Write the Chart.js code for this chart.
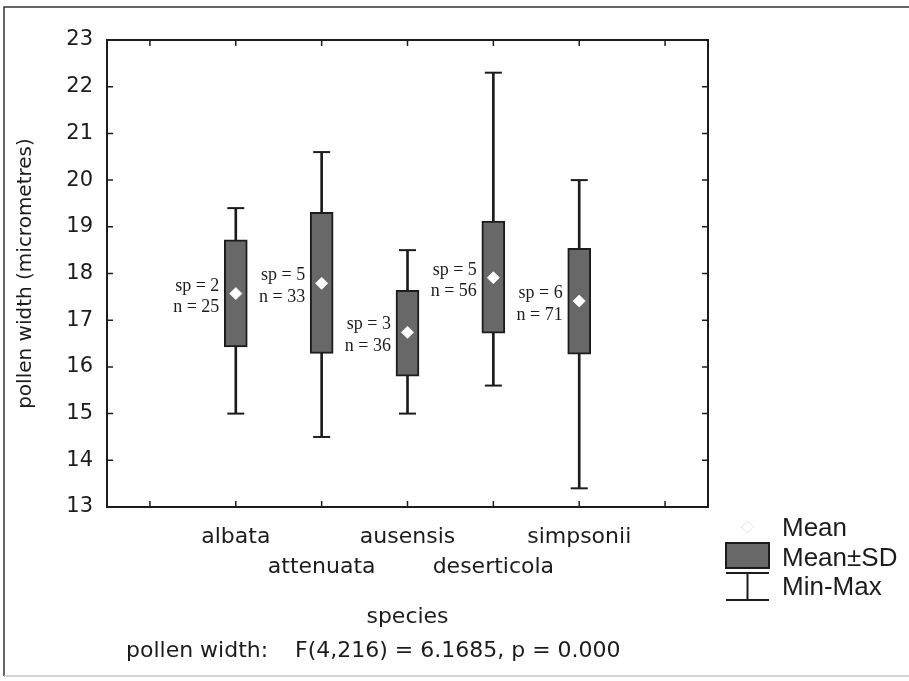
<!DOCTYPE html>
<html>
<head>
<meta charset="utf-8">
<script src="https://cdn.jsdelivr.net/npm/chart.js@4/dist/chart.umd.min.js"></script>
<style>
  html, body { margin: 0; padding: 0; background: #fff; }
  #wrap { width: 909px; height: 681px; }
</style>
</head>
<body>
<div id="wrap"><canvas id="chart" width="909" height="681"></canvas></div>
<script>
const species = ['albata', 'attenuata', 'ausensis', 'deserticola', 'simpsonii'];
const means = [17.57, 17.79, 16.74, 17.91, 17.41];
const sdLow = [16.43, 16.29, 15.80, 16.72, 16.27];
const sdHigh = [18.72, 19.31, 17.64, 19.12, 18.54];
const minVals = [15.0, 14.5, 15.0, 15.6, 13.4];
const maxVals = [19.4, 20.6, 18.5, 22.3, 20.0];
const spCounts = [2, 5, 3, 5, 6];
const nCounts = [25, 33, 36, 56, 71];
const yTicks = [13, 14, 15, 16, 17, 18, 19, 20, 21, 22, 23];

const boxFill = '#686868';
const ink = '#1c1c1c';
const sans = 'DejaVu Sans';

// species sit on positions 2..6 of a 0.5..7.5 axis, like the original
const xOf = i => i + 2;

const boxes = species.map((s, i) => ({ x: xOf(i), y: [sdLow[i], sdHigh[i]] }));
const whiskers = species.map((s, i) => ({ x: xOf(i), y: [minVals[i], maxVals[i]] }));
const caps = [];
species.forEach((s, i) => {
  caps.push({ x: xOf(i), y: maxVals[i] });
  caps.push({ x: xOf(i), y: minVals[i] });
});
const meanPts = species.map((s, i) => ({ x: xOf(i), y: means[i] }));

const extras = {
  id: 'extras',
  afterDatasetsDraw(chart) {
    const { ctx, chartArea: a, scales: { x, y } } = chart;
    ctx.save();

    // plot frame + inward ticks
    ctx.strokeStyle = ink;
    ctx.lineWidth = 2;
    ctx.strokeRect(a.left, a.top, a.right - a.left, a.bottom - a.top);
    ctx.lineWidth = 1.5;
    ctx.beginPath();
    for (let v = 1; v <= 7; v++) {
      const px = x.getPixelForValue(v);
      ctx.moveTo(px, a.bottom); ctx.lineTo(px, a.bottom - 6);
      ctx.moveTo(px, a.top); ctx.lineTo(px, a.top + 6);
    }
    yTicks.slice(1, -1).forEach(v => {
      const py = y.getPixelForValue(v);
      ctx.moveTo(a.left, py); ctx.lineTo(a.left + 6, py);
      ctx.moveTo(a.right, py); ctx.lineTo(a.right - 6, py);
    });
    ctx.stroke();

    // outer page frame
    ctx.strokeStyle = '#333';
    ctx.lineWidth = 1.5;
    ctx.beginPath();
    ctx.moveTo(909, 7); ctx.lineTo(4, 7); ctx.lineTo(4, 676);
    ctx.stroke();
    ctx.strokeStyle = '#c8c8c8';
    ctx.beginPath();
    ctx.moveTo(4, 676); ctx.lineTo(909, 676);
    ctx.stroke();

    // sp / n notes left of each box
    ctx.fillStyle = ink;
    ctx.font = '18px "Liberation Serif"';
    ctx.textAlign = 'right';
    ctx.textBaseline = 'alphabetic';
    species.forEach((s, i) => {
      const px = x.getPixelForValue(xOf(i)) - 16.5;
      const py = y.getPixelForValue(means[i]);
      ctx.fillText('sp = ' + spCounts[i], px, py - 3);
      ctx.fillText('n = ' + nCounts[i], px, py + 18.5);
    });

    // axis titles and test line
    ctx.font = '20px "' + sans + '"';
    ctx.textAlign = 'center';
    ctx.save();
    ctx.translate(31, (a.top + a.bottom) / 2);
    ctx.rotate(-Math.PI / 2);
    ctx.fillText('pollen width (micrometres)', 0, 0);
    ctx.restore();
    ctx.font = '22px "' + sans + '"';
    ctx.fillText('species', x.getPixelForValue(4), 623);
    ctx.textAlign = 'left';
    ctx.fillText('pollen width:', 126, 657);
    ctx.fillText('F(4,216) = 6.1685, p = 0.000', 295, 657);

    // legend
    const lx = 726, lw = 43;
    ctx.fillStyle = '#fff';
    ctx.strokeStyle = '#e2e2e2';
    ctx.lineWidth = 1;
    ctx.beginPath();
    ctx.moveTo(lx + lw / 2, 521); ctx.lineTo(lx + lw / 2 + 6, 527);
    ctx.lineTo(lx + lw / 2, 533); ctx.lineTo(lx + lw / 2 - 6, 527);
    ctx.closePath();
    ctx.fill(); ctx.stroke();
    ctx.fillStyle = boxFill;
    ctx.fillRect(lx, 543, lw, 25);
    ctx.strokeStyle = ink;
    ctx.lineWidth = 2;
    ctx.strokeRect(lx, 543, lw, 25);
    ctx.beginPath();
    ctx.moveTo(lx, 573); ctx.lineTo(lx + lw, 573);
    ctx.moveTo(lx + lw / 2, 573); ctx.lineTo(lx + lw / 2, 600);
    ctx.moveTo(lx, 600); ctx.lineTo(lx + lw, 600);
    ctx.stroke();
    ctx.fillStyle = ink;
    ctx.font = '26px "Liberation Sans"';
    ctx.fillText('Mean', 782, 536);
    ctx.fillText('Mean\u00b1SD', 782, 566);
    ctx.fillText('Min-Max', 782, 595);

    ctx.restore();
  }
};

new Chart(document.getElementById('chart'), {
  type: 'bar',
  data: {
    datasets: [
      {
        type: 'scatter',
        data: meanPts,
        pointStyle: 'rectRot',
        radius: 6,
        backgroundColor: '#fff',
        borderColor: '#f4f4f4',
        borderWidth: 1,
        order: 0
      },
      {
        data: boxes,
        grouped: false,
        barThickness: 23,
        backgroundColor: boxFill,
        borderColor: ink,
        borderWidth: 2,
        borderSkipped: false,
        order: 1
      },
      {
        type: 'scatter',
        data: caps,
        pointStyle: 'line',
        radius: 8.5,
        borderColor: ink,
        borderWidth: 2,
        order: 2
      },
      {
        data: whiskers,
        grouped: false,
        barThickness: 2,
        backgroundColor: ink,
        borderWidth: 0,
        order: 3
      }
    ]
  },
  options: {
    responsive: false,
    animation: false,
    events: [],
    layout: { padding: { left: 0, right: 201, top: 40, bottom: 74 } },
    plugins: { legend: { display: false }, tooltip: { enabled: false } },
    scales: {
      x: {
        type: 'linear',
        min: 0.5,
        max: 7.5,
        offset: false,
        grid: { display: false, drawTicks: false },
        border: { display: false },
        afterFit: s => { s.height = 100; },
        afterBuildTicks: s => { s.ticks = [1, 2, 3, 4, 5, 6, 7].map(v => ({ value: v })); },
        ticks: {
          autoSkip: false,
          maxRotation: 0,
          padding: 15,
          color: ink,
          font: { family: sans, size: 22, lineHeight: 30 / 22 },
          callback: v => {
            const i = v - 2;
            if (i < 0 || i >= species.length) return '';
            return i % 2 === 0 ? species[i] : ['', species[i]];
          }
        }
      },
      y: {
        min: 13,
        max: 23,
        grid: { display: false, drawTicks: false },
        border: { display: false },
        afterFit: s => { s.width = 107; },
        afterBuildTicks: s => { s.ticks = yTicks.map(v => ({ value: v })); },
        ticks: {
          padding: 14,
          color: ink,
          font: { family: sans, size: 21 }
        }
      }
    }
  },
  plugins: [extras]
});
</script>
</body>
</html>
